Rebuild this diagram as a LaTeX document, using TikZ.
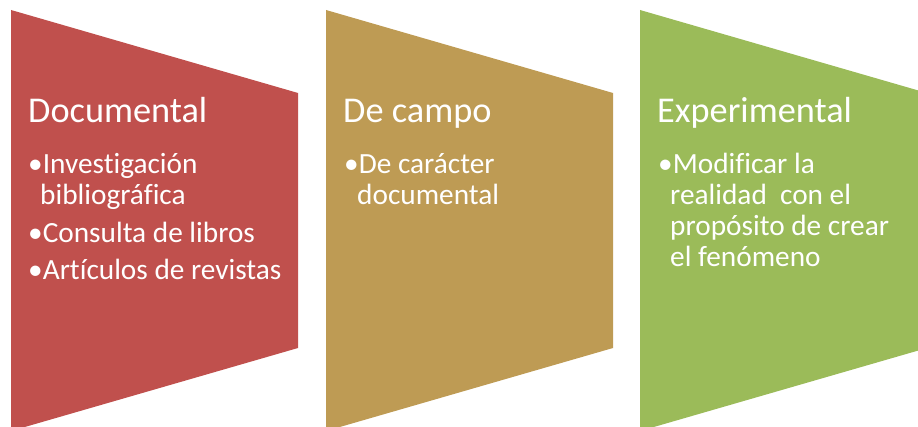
\documentclass[tikz,border=0pt]{standalone}
\usepackage{fontspec}
\setmainfont[Ligatures=NoCommon]{Carlito}
\definecolor{cred}{HTML}{C0504D}
\definecolor{cgold}{HTML}{BE9B54}
\definecolor{cgreen}{HTML}{9BBB59}
\begin{document}
\begin{tikzpicture}[x=1pt,y=-1pt,
  title/.style={anchor=base west, inner sep=0pt, text=white, font=\fontsize{36.3}{36}\selectfont},
  item/.style={anchor=base west, inner sep=0pt, text=white, font=\fontsize{29.3}{31}\selectfont}]
\useasboundingbox (0,0) rectangle (918,427);
\clip (0,0) rectangle (918,427);
\fill[cred]   (11,10)  -- (298,93) -- (298,348) -- (11,431)  -- cycle;
\fill[cgold]  (326,10) -- (613,93) -- (613,348) -- (326,431) -- cycle;
\fill[cgreen] (640,10) -- (927,93) -- (927,348) -- (640,431) -- cycle;
% Documental
\node[title] (t1) at (28,123) {Documental};
\node[item] (a1) at (28,174) {•Investigación};
\node[item] (a1b) at (40,205) {bibliográfica};
\node[item] (a2) at (28,243) {•Consulta de libros};
\node[item] (a3) at (28,280) {•Artículos de revistas};
% De campo
\node[title] (t2) at (343,123) {De campo};
\node[item] (b1) at (344,174) {•De carácter};
\node[item] (b1b) at (357,205) {documental};
% Experimental
\node[title] (t3) at (657,123) {Experimental};
\node[item] (c1) at (658,174) {•Modificar la};
\node[item] (c1b) at (670,205) {realidad\ \ con el};
\node[item] (c1c) at (670,236) {propósito de crear};
\node[item] (c1d) at (670,267) {el fenómeno};
\end{tikzpicture}
\end{document}
